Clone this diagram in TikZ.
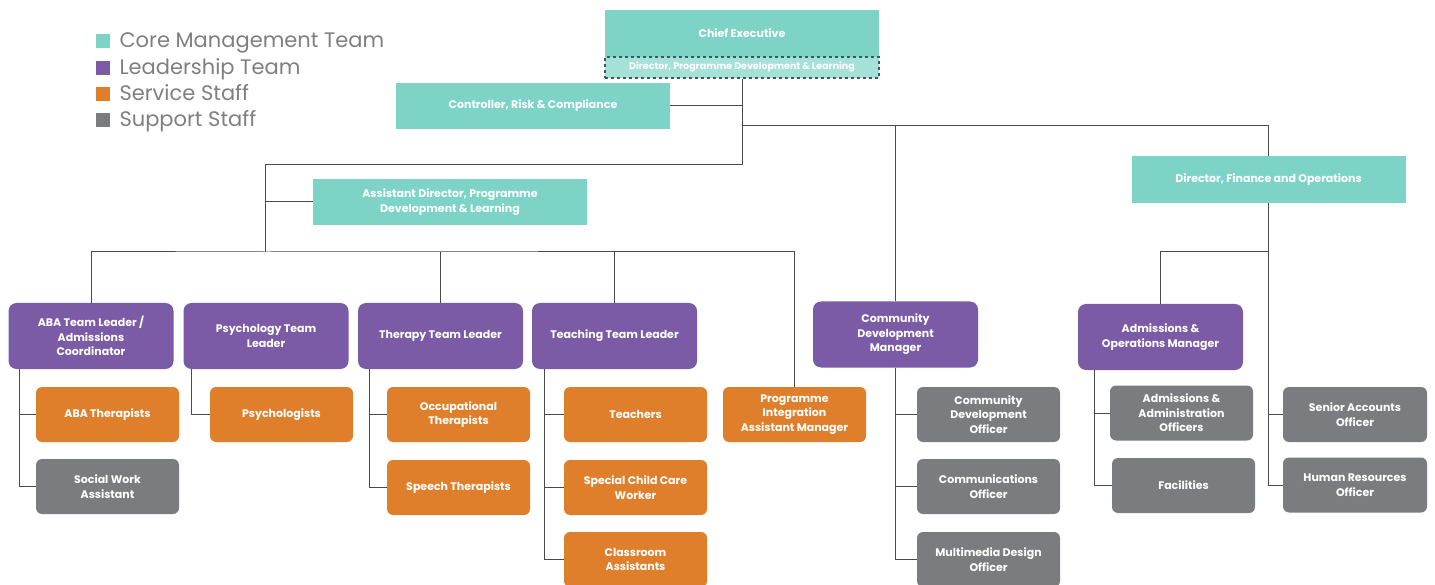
\documentclass[tikz,border=0pt]{standalone}
\usepackage{fontspec}
\setmainfont{Poppins}
\definecolor{coreteal}{HTML}{7DD4C6}
\definecolor{paleteal}{HTML}{A6E1D7}
\definecolor{leadpurple}{HTML}{7B5AA6}
\definecolor{serviceorange}{HTML}{E07F2B}
\definecolor{supportgray}{HTML}{7A7C7F}
\definecolor{legendgray}{HTML}{7F7F7F}
\definecolor{linegray}{HTML}{4A4A4A}
\definecolor{dashslate}{HTML}{3E5566}
\begin{document}
\begin{tikzpicture}[x=1pt,y=-1pt,
		box/.style = {align=center, text=white, inner sep=2pt, font=\fontsize{11}{14.5}\selectfont\bfseries},
		core/.style = {box, fill=coreteal, minimum width=274pt, minimum height=46pt},
		lead/.style = {box, fill=leadpurple, rounded corners=8pt, minimum width=165pt, minimum height=66pt},
		service/.style = {box, fill=serviceorange, rounded corners=6pt, minimum width=143pt, minimum height=55pt},
		support/.style = {box, fill=supportgray, rounded corners=6pt, minimum width=143pt, minimum height=55pt},
		key/.style = {minimum size=14pt, inner sep=0pt},
		keytext/.style = {anchor=west, text=legendgray, text height=15pt, text depth=5pt, font=\fontsize{21}{24}\selectfont},
		link/.style = {draw=linegray, line width=1pt}]
			\useasboundingbox (0,0) rectangle (1435,585);

			% legend
			\node[key, fill=coreteal] (k1) at (103,41) {};
			\node[key, fill=leadpurple] (k2) at (103,68) {};
			\node[key, fill=serviceorange] (k3) at (103,94) {};
			\node[key, fill=supportgray] (k4) at (103,120) {};
			\node[keytext] (t1) at (116,43) {Core Management Team};
			\node[keytext] (t2) at (116,70) {Leadership Team};
			\node[keytext] (t3) at (116,96) {Service Staff};
			\node[keytext] (t4) at (116,122) {Support Staff};

			% core management
			\node[core, minimum height=47pt] (ce) at (742,33.5) {Chief Executive};
			\node[box, fill=paleteal, draw=dashslate, dashed, line width=1.3pt, minimum width=274pt, minimum height=21pt, font=\fontsize{9.5}{11}\selectfont\bfseries] (dpdl) at (742,67.5) {Director, Programme Development \& Learning};
			\node[core] (crc) at (533,106) {Controller, Risk \& Compliance};
			\node[core] (adpd) at (450,202) {Assistant Director, Programme\\Development \& Learning};
			\node[core, minimum height=47pt] (dfo) at (1268.5,179.5) {Director, Finance and Operations};

			% leadership
			\node[lead] (aba) at (91,336) {ABA Team Leader /\\Admissions\\Coordinator};
			\node[lead] (psy) at (266,336) {Psychology Team\\Leader};
			\node[lead] (ttl) at (440.5,336) {Therapy Team Leader};
			\node[lead] (tea) at (614.5,336) {Teaching Team Leader};
			\node[lead] (cdm) at (895.5,334.5) {Community\\Development\\Manager};
			\node[lead] (aom) at (1160.5,337) {Admissions \&\\Operations Manager};

			% service staff
			\node[service] (abt) at (107.5,414.5) {ABA Therapists};
			\node[service] (psl) at (281.5,414.5) {Psychologists};
			\node[service] (oth) at (458.5,414.5) {Occupational\\Therapists};
			\node[service] (spt) at (458.5,487.5) {Speech Therapists};
			\node[service] (tch) at (635.5,414.5) {Teachers};
			\node[service] (scc) at (635.5,487.5) {Special Child Care\\Worker};
			\node[service] (cla) at (635.5,559.5) {Classroom\\Assistants};
			\node[service] (pia) at (794.5,414.5) {Programme\\Integration\\Assistant Manager};

			% support staff
			\node[support] (swa) at (107.5,486.5) {Social Work\\Assistant};
			\node[support] (cdo) at (988.5,414.5) {Community\\Development\\Officer};
			\node[support] (com) at (988.5,486.5) {Communications\\Officer};
			\node[support] (mdo) at (988.5,559.5) {Multimedia Design\\Officer};
			\node[support] (aao) at (1181.5,413) {Admissions \&\\Administration\\Officers};
			\node[support] (fac) at (1183.5,485.5) {Facilities};
			\node[support, minimum width=144pt] (sao) at (1355,414.5) {Senior Accounts\\Officer};
			\node[support, minimum width=144pt] (hro) at (1355,485) {Human Resources\\Officer};

			\coordinate (top) at (742,126);
			\coordinate (elbow) at (265,165);
			\coordinate (bus) at (265,252);
			\coordinate (fbus) at (1268,252);
			\coordinate (abaspine) at ([xshift=11pt]aba.south west);
			\coordinate (psyspine) at ([xshift=8pt]psy.south west);
			\coordinate (ttlspine) at ([xshift=12pt]ttl.south west);
			\coordinate (teaspine) at ([xshift=13pt]tea.south west);
			\coordinate (aomspine) at ([xshift=17pt]aom.south west);

			% top of the tree
			\draw[link] (dpdl.south) |- (elbow) -- (bus);
			\draw[link] (crc.east) -- (crc.east -| dpdl.south);
			\draw[link] (adpd.west) -- (adpd.west -| elbow);
			\draw[link] (top) -| (cdm.north);
			\draw[link] (top) -| (dfo.north);

			% programme bus
			\draw[link] (aba.north) |- (bus) -| (pia.north);
			\draw[link] (ttl.north) -- (ttl.north |- bus);
			\draw[link] (tea.north) -- (tea.north |- bus);

			% finance side
			\draw[link] (aom.north) |- (fbus);
			\draw[link] (dfo.south) |- (hro.west);
			\draw[link] (sao.west) -- (sao.west -| dfo.south);

			% team members
			\draw[link] (abaspine) |- (swa.west);
			\draw[link] (abt.west) -- (abt.west -| abaspine);
			\draw[link] (psyspine) |- (psl.west);
			\draw[link] (ttlspine) |- (spt.west);
			\draw[link] (oth.west) -- (oth.west -| ttlspine);
			\draw[link] (teaspine) |- (cla.west);
			\draw[link] (tch.west) -- (tch.west -| teaspine);
			\draw[link] (scc.west) -- (scc.west -| teaspine);
			\draw[link] (cdm.south) |- (mdo.west);
			\draw[link] (cdo.west) -- (cdo.west -| cdm.south);
			\draw[link] (com.west) -- (com.west -| cdm.south);
			\draw[link] (aomspine) |- (fac.west);
			\draw[link] (aao.west) -- (aao.west -| aomspine);
		\end{tikzpicture}
\end{document}
